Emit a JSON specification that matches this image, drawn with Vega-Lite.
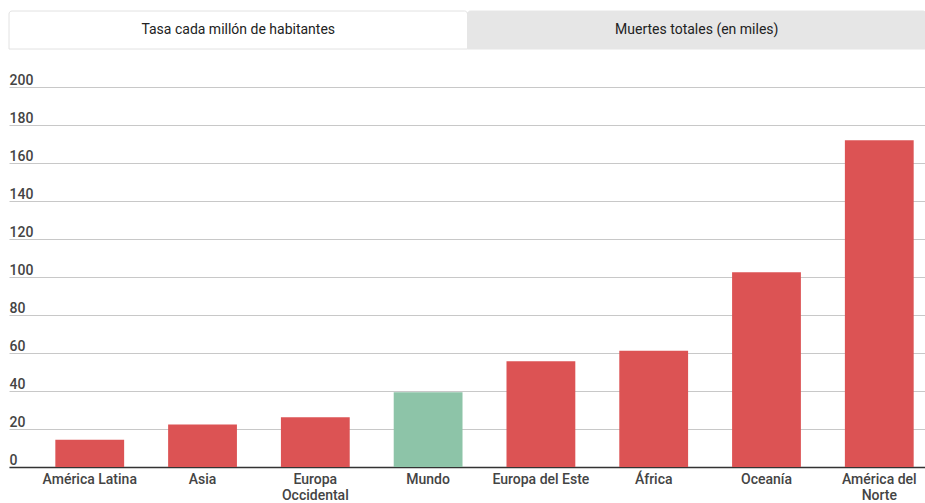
{
  "$schema": "https://vega.github.io/schema/vega-lite/v6.json",
  "padding": {"left": 8, "top": 10, "right": 0, "bottom": 0},
  "background": "white",
  "spacing": 23,
  "config": {
    "font": "Roboto",
    "view": {"stroke": null}
  },
  "vconcat": [
    {
      "width": 917,
      "height": 38,
      "data": {"values": [
        {"tab": "Tasa cada millón de habitantes", "activo": true},
        {"tab": "Muertes totales (en miles)", "activo": false}
      ]},
      "encoding": {
        "x": {"field": "tab", "type": "nominal", "sort": null, "axis": null,
              "scale": {"paddingInner": 0, "paddingOuter": 0}}
      },
      "layer": [
        {
          "mark": {"type": "bar", "cornerRadiusTopLeft": 3, "cornerRadiusTopRight": 3, "strokeWidth": 1},
          "encoding": {
            "fill": {"condition": {"test": "datum.activo", "value": "#ffffff"}, "value": "#e6e6e6"},
            "stroke": {"condition": {"test": "datum.activo", "value": "#e2e2e2"}, "value": "#e6e6e6"}
          }
        },
        {
          "mark": {"type": "text", "font": "Roboto", "fontSize": 14, "color": "#222222", "baseline": "middle"},
          "encoding": {"text": {"field": "tab"}}
        }
      ]
    },
    {
      "width": 917,
      "height": 380,
      "data": {"values": [
        {"region": "América Latina", "tasa": 14.3},
        {"region": "Asia", "tasa": 22.4},
        {"region": "Europa Occidental", "tasa": 26.2},
        {"region": "Mundo", "tasa": 39.3},
        {"region": "Europa del Este", "tasa": 55.6},
        {"region": "África", "tasa": 61.2},
        {"region": "Oceanía", "tasa": 102.5},
        {"region": "América del Norte", "tasa": 172}
      ]},
      "mark": {"type": "bar"},
      "encoding": {
        "x": {
          "field": "region", "type": "nominal", "sort": null, "title": null,
          "scale": {"paddingInner": 0.39, "paddingOuter": 0.26, "align": 0.79},
          "axis": {
            "domainColor": "#333333", "domainWidth": 1.5, "ticks": false,
            "labelAngle": 0, "labelFont": "Roboto", "labelFontSize": 14, "labelFontWeight": 500, "labelColor": "#444444",
            "labelPadding": 5, "labelLineHeight": 16, "labelOverlap": false,
            "labelExpr": "datum.label == 'Europa Occidental' ? ['Europa', 'Occidental'] : datum.label == 'América del Norte' ? ['América del', 'Norte'] : datum.label"
          }
        },
        "y": {
          "field": "tasa", "type": "quantitative", "title": null,
          "scale": {"domain": [0, 200], "nice": false},
          "axis": {
            "values": [0, 20, 40, 60, 80, 100, 120, 140, 160, 180, 200],
            "domain": false, "ticks": false, "tickSize": 0,
            "grid": true, "gridColor": "#c8c8c8", "gridWidth": 1,
            "labelAlign": "left", "labelBaseline": "bottom", "labelPadding": 0, "labelDy": -3,
            "labelFont": "Roboto", "labelFontSize": 14, "labelFontWeight": 500, "labelColor": "#444444",
            "labelOverlap": false, "labelBound": false, "labelFlush": false
          }
        },
        "color": {
          "condition": {"test": "datum.region === 'Mundo'", "value": "#8dc4a8"},
          "value": "#dc5354"
        }
      }
    }
  ]
}
